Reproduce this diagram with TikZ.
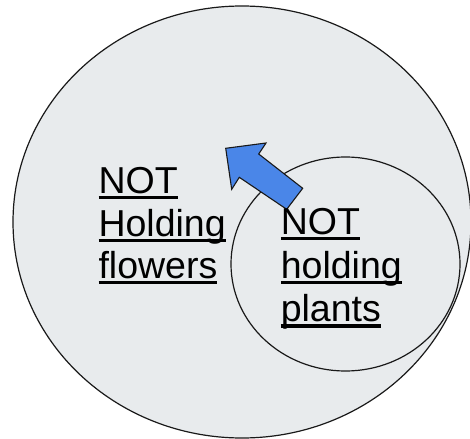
\documentclass[tikz,border=0pt]{standalone}
\usepackage{fontspec}
\setmainfont{Liberation Sans}
\definecolor{vennfill}{RGB}{232,235,237}
\definecolor{arrowblue}{RGB}{74,134,232}
\newcommand\ulword[1]{\setbox0\hbox{#1}\rlap{\rule[-5.8pt]{\wd0}{3.2pt}}\box0}
\tikzset{
  setring/.style={draw=black!90, line width=1.2pt, fill=vennfill},
  lbl/.style={anchor=base west, inner sep=0pt, font=\fontsize{37.5}{43}\selectfont},
  blockarrow/.style={draw=black!90, line width=1.1pt, fill=arrowblue, line join=miter}
}
\begin{document}
\begin{tikzpicture}[x=1pt,y=-1pt]
\useasboundingbox (0,0) rectangle (470,438);
\begin{scope}
\clip (0,0) rectangle (470,438);
\draw[setring] (242,222) ellipse [x radius=229, y radius=216];
\draw[setring] (345.5,264) ellipse [x radius=114.5, y radius=107];
\end{scope}
\coordinate (t1) at (302.7,188.3);
\coordinate (n1) at (258.7,154);
\coordinate (h1) at (266,143);
\coordinate (tip) at (225.7,148.3);
\coordinate (h2) at (231.7,189.3);
\coordinate (n2) at (239.3,177.3);
\coordinate (t2) at (286.7,209.3);
\draw[blockarrow] (t1) -- (n1) -- (h1) -- (tip) -- (h2) -- (n2) -- (t2) -- cycle;
\node[lbl] (l1) at (98.3,193.3) {\ulword{NOT}};
\node[lbl] (l2) at (98.3,236.3) {\ulword{Holding}};
\node[lbl] (l3) at (98.3,278.5) {\ulword{flowers}};
\node[lbl] (r1) at (280.6,234.5) {\ulword{NOT}};
\node[lbl] (r2) at (280.6,278.3) {\ulword{holding}};
\node[lbl] (r3) at (280.6,321.7) {\ulword{plants}};
\end{tikzpicture}
\end{document}
